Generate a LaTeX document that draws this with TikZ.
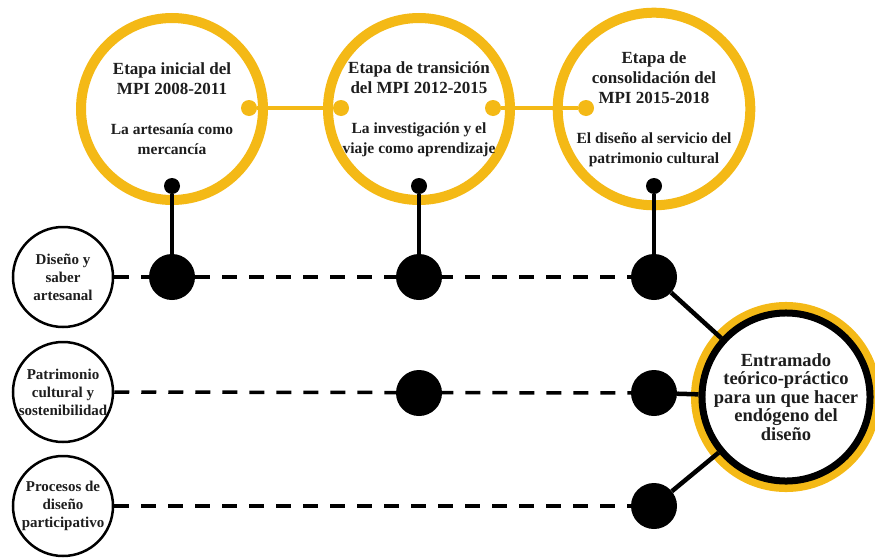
\documentclass[tikz,border=0pt]{standalone}
\usepackage{fontspec}
\setmainfont{Liberation Serif}
\usetikzlibrary{backgrounds}
\definecolor{ring}{RGB}{244,185,22}
\definecolor{ink}{RGB}{30,30,30}
\newcommand\subt{\fontsize{15.5}{18}\selectfont}
\begin{document}
\begin{tikzpicture}[x=1pt,y=-1pt,
  stage/.style={circle, draw=ring, line width=10pt, fill=white, minimum size=182pt,
    inner sep=0pt, align=center, text=ink, font=\bfseries\fontsize{17}{20}\selectfont},
  topic/.style={circle, draw=black, line width=2.5pt, fill=white, minimum size=100pt,
    inner sep=0pt, align=center, text=ink, font=\bfseries\fontsize{15}{18}\selectfont},
  bigdot/.style={circle, fill=black, minimum size=46pt, inner sep=0pt},
  pin/.style={circle, fill=black, minimum size=16pt, inner sep=0pt},
  ydot/.style={circle, fill=ring, minimum size=16pt, inner sep=0pt},
  goal/.style={circle, draw=black, line width=7pt, fill=white, minimum size=148pt,
    inner sep=0pt, align=center, text=ink, font=\bfseries\fontsize{18.5}{18.5}\selectfont,
    preaction={draw=ring, line width=22pt}},
  dashline/.style={line width=3.5pt, dash pattern=on 15pt off 12pt},
  link/.style={line width=4.5pt},
  ylink/.style={draw=ring, line width=4.5pt},
]
\useasboundingbox (0,0) rectangle (875,557);

% top stage circles
\node[stage] (C1) at (172,109) {Etapa inicial del\\MPI 2008-2011\\[20pt]\subt La artesanía como\\\subt mercancía};
\node[stage] (C2) at (419,109) {Etapa de transición\\del MPI 2012-2015\\[20pt]\subt La investigación y el\\\subt viaje como aprendizaje};
\node[stage] (C3) at (654,109) {Etapa de\\consolidación del\\MPI 2015-2018\\[20pt]\subt El diseño al servicio del\\\subt patrimonio cultural};

% yellow joints
\node[ydot] (Y1R) at (249,108) {};
\node[ydot] (Y2L) at (341,108) {};
\node[ydot] (Y2R) at (493,108) {};
\node[ydot] (Y3L) at (586,108) {};
\draw[ylink] (Y1R) -- (Y2L);
\draw[ylink] (Y2R) -- (Y3L);

% pins
\node[pin] (P1) at (172,186) {};
\node[pin] (P2) at (419,186) {};
\node[pin] (P3) at (654,186) {};

% topic circles
\node[topic] (L1) at (63,277) {Diseño y\\saber\\artesanal};
\node[topic] (L2) at (63,392) {Patrimonio\\cultural y\\sostenibilidad};
\node[topic] (L3) at (63,506) {Procesos de\\diseño\\participativo};

% big dots
\node[bigdot] (D11) at (172,277) {};
\node[bigdot] (D12) at (419,277) {};
\node[bigdot] (D13) at (654,277) {};
\node[bigdot] (D22) at (419,393) {};
\node[bigdot] (D23) at (654,393) {};
\node[bigdot] (D33) at (654,506) {};

% goal circle
\node[goal] (E) at (786,397) {Entramado\\teórico-práctico\\para un que hacer\\endógeno del\\diseño};

\begin{scope}[on background layer]
  \draw[dashline] (L1.east) -- (D13.center);
  \draw[dashline] (L2.east) -- (D23.center);
  \draw[dashline] (L3.east) -- (D33.center);
\end{scope}

\draw[link] (P1) -- (D11);
\draw[link] (P2) -- (D12);
\draw[link] (P3) -- (D13);
\draw[link] (D13) -- (E);
\draw[link] (D23) -- (E);
\draw[link] (D33) -- (E);
\end{tikzpicture}
\end{document}
